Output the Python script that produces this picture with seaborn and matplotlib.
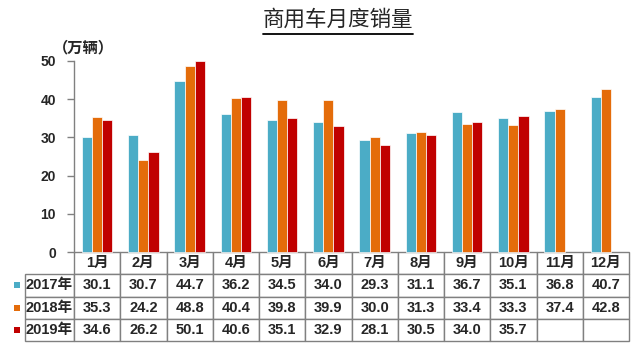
import numpy as np
import pandas as pd
import matplotlib
matplotlib.use('Agg')
import matplotlib.pyplot as plt
import seaborn as sns
from matplotlib.patches import Rectangle
from matplotlib.lines import Line2D

months = ['1月', '2月', '3月', '4月', '5月', '6月', '7月', '8月', '9月', '10月', '11月', '12月']
years = ['2017年', '2018年', '2019年']
sales_2017 = [30.1, 30.7, 44.7, 36.2, 34.5, 34.0, 29.3, 31.1, 36.7, 35.1, 36.8, 40.7]
sales_2018 = [35.3, 24.2, 48.8, 40.4, 39.8, 39.9, 30.0, 31.3, 33.4, 33.3, 37.4, 42.8]
sales_2019 = [34.6, 26.2, 50.1, 40.6, 35.1, 32.9, 28.1, 30.5, 34.0, 35.7, np.nan, np.nan]
colors = ['#4BACC6', '#E46C0A', '#C00000']

sns.set_theme(style='white')
plt.rcParams['font.family'] = ['Liberation Sans', 'Noto Sans CJK SC']

all_sales = [sales_2017, sales_2018, sales_2019]
df = pd.DataFrame({
    '月份': months * 3,
    '年份': np.repeat(years, len(months)),
    '销量': sales_2017 + sales_2018 + sales_2019,
})

W, H = 640, 351
fig = plt.figure(figsize=(6.4, 3.51), dpi=100)
ax_l, ax_r, ax_b, ax_t = 74, 629, 252, 61
ax = fig.add_axes([ax_l / W, 1 - ax_b / H, (ax_r - ax_l) / W, (ax_b - ax_t) / H])

sns.barplot(data=df, x='月份', y='销量', hue='年份', palette=colors, saturation=1,
            width=0.66, errorbar=None, ax=ax, legend=False,
            edgecolor='#ffffff', linewidth=0.5)
for p in ax.patches:
    p.set_clip_on(False)

ax.set_ylim(0, 50)
ax.set_xlim(-0.5, 11.5)
ax.set_yticks([0, 10, 20, 30, 40, 50])
ax.set_xlabel('')
ax.set_ylabel('')
for s in ['top', 'right', 'bottom']:
    ax.spines[s].set_visible(False)
ax.spines['left'].set_color('#808080')
ax.spines['left'].set_linewidth(1)
ax.tick_params(axis='x', bottom=False, labelbottom=False)
ax.tick_params(axis='y', left=True, length=5, width=1, color='#808080', pad=8, labelsize=10)
for lbl in ax.get_yticklabels():
    lbl.set_fontweight('bold')

# data table under the bars (bbox covers the month columns only)
ax_w = ax_r - ax_l
ax_h = ax_b - ax_t
lab_w = 64
tab_h = (342 - 253) / ax_h
cell_text = [['' if np.isnan(v) else f'{v:.1f}' for v in s] for s in all_sales]
tab = ax.table(cellText=cell_text, rowLabels=years, colLabels=months,
               cellLoc='center', rowLoc='right',
               bbox=[0, -tab_h, 1, tab_h])
tab.auto_set_font_size(False)
tab.set_fontsize(10.5)
col_w = ax_w / 12
for (r, c), cell in tab.get_celld().items():
    cell.set_edgecolor('#808080')
    cell.set_linewidth(1)
    cell.get_text().set_fontweight('bold')
    if c == -1:
        cell.set_width(cell.get_width() * lab_w / col_w)
        cell.PAD = 0.02

# colour keys in the row labels
row_h = tab_h / 4
for i, col in enumerate(colors):
    yc = -tab_h + (3 - i - 0.5) * row_h
    sq_w, sq_h = 6 / ax_w, 6 / ax_h
    ax.add_patch(Rectangle((-(74 - 14) / ax_w, yc - sq_h / 2), sq_w, sq_h,
                           transform=ax.transAxes, facecolor=col, edgecolor='none',
                           clip_on=False))

fig.text(83 / W, 1 - 48 / H, '（万辆）', ha='center', va='center', fontsize=11,
         fontweight='bold')

title = fig.text(338 / W, 1 - 20 / H, '商用车月度销量', ha='center', va='center',
                 fontsize=15.5)
fig.canvas.draw()
bb = title.get_window_extent().transformed(fig.transFigure.inverted())
fig.add_artist(Line2D([bb.x0, bb.x1], [1 - 34 / H] * 2, color='black', lw=1.3,
                      transform=fig.transFigure))

fig.savefig('out.png', dpi=100)
